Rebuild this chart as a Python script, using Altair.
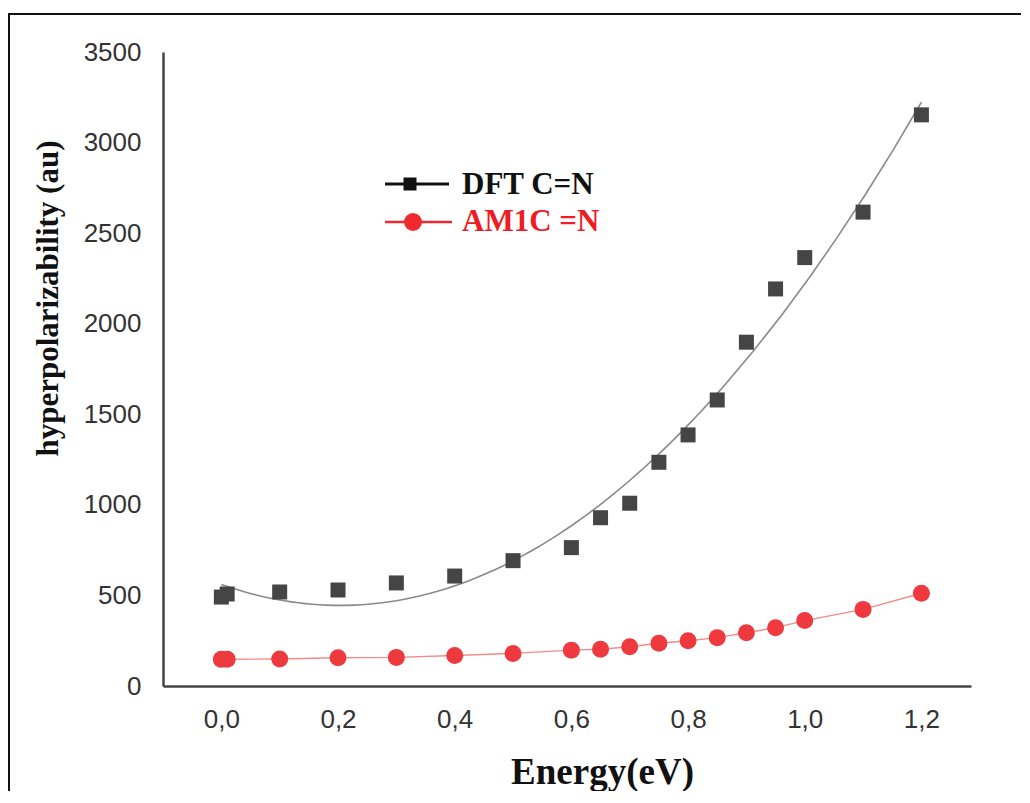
import altair as alt
import pandas as pd

energy = [0.0, 0.01, 0.1, 0.2, 0.3, 0.4, 0.5, 0.6, 0.65, 0.7, 0.75, 0.8, 0.85, 0.9, 0.95, 1.0, 1.1, 1.2]
dft = [491, 508, 519, 530, 569, 607, 692, 764, 929, 1009, 1235, 1386, 1579, 1898, 2192, 2365, 2616, 3153]
am1 = [147, 148, 149, 156, 158, 168, 180, 198, 203, 217, 236, 250, 267, 294, 322, 361, 423, 512]

x_ticks = [0.0, 0.2, 0.4, 0.6, 0.8, 1.0, 1.2]
y_ticks = [0, 500, 1000, 1500, 2000, 2500, 3000, 3500]
series_names = ["DFT C=N", "AM1C =N"]

df = pd.DataFrame({"E": energy, "DFT": dft, "AM1": am1})

x_axis = alt.Axis(
    values=x_ticks,
    labelExpr="replace(format(datum.value, '.1f'), '.', ',')",
    ticks=False, grid=False,
    domainColor="#444444", domainWidth=2.5,
    labelFont="Liberation Sans", labelFontSize=26, labelColor="#333333",
    labelPadding=20,
    title="Energy(eV)", titleFont="Liberation Serif", titleFontSize=37,
    titleFontWeight="bold", titleColor="#111111",
    titleX=439, titleY=97, titleAlign="center", titleBaseline="alphabetic",
)
y_axis = alt.Axis(
    values=y_ticks, format="d",
    ticks=False, grid=False,
    domainColor="#444444", domainWidth=2.5,
    labelFont="Liberation Sans", labelFontSize=26, labelColor="#333333",
    labelPadding=22,
    title="hyperpolarizability (au)", titleFont="Liberation Serif", titleFontSize=31,
    titleFontWeight="bold", titleColor="#111111",
    titleX=-115, titleY=246, titleAngle=-90, titleAlign="center", titleBaseline="middle",
)
x_scale = alt.Scale(domain=[-0.1, 1.285], nice=False, zero=False)
y_scale = alt.Scale(domain=[0, 3500], nice=False)


def xe():
    return alt.X("E:Q", scale=x_scale, axis=x_axis)


def ye(field):
    return alt.Y(f"{field}:Q", scale=y_scale, axis=y_axis)


one = alt.Data(values=[{}])

frame = alt.Chart(one).mark_rect(fillOpacity=0, stroke="#111111", strokeWidth=2).encode(
    x=alt.value(-154), x2=alt.value(900), y=alt.value(-38), y2=alt.value(800)
)

dft_trend = alt.Chart(df).transform_regression(
    "E", "DFT", method="poly", order=2
).mark_line(color="#8a8a8a", strokeWidth=1.6).encode(x=xe(), y=ye("DFT"))

dft_pts = alt.Chart(df).mark_point(
    shape="square", filled=True, color="#454545", size=225, opacity=1
).encode(x=xe(), y=ye("DFT"))

am1_line = alt.Chart(df).mark_line(color="#f58a8a", strokeWidth=1.4).encode(
    x=xe(), y=ye("AM1")
)
am1_pts = alt.Chart(df).mark_circle(color="#ee3a3f", size=289, opacity=1).encode(
    x=xe(), y=ye("AM1")
)

leg_line1 = alt.Chart(one).mark_rule(color="#111111", strokeWidth=3).encode(
    x=alt.value(222), x2=alt.value(286), y=alt.value(132)
)
leg_sym1 = alt.Chart(one).mark_point(
    shape="square", filled=True, color="#111111", size=169, opacity=1
).encode(x=alt.value(247), y=alt.value(132))
leg_txt1 = alt.Chart(one).mark_text(
    text=series_names[0], align="left", baseline="alphabetic",
    font="Liberation Serif", fontWeight="bold", fontSize=31, color="#111111",
).encode(x=alt.value(299), y=alt.value(142))

leg_line2 = alt.Chart(one).mark_rule(color="#ee2a30", strokeWidth=2.5).encode(
    x=alt.value(222), x2=alt.value(289), y=alt.value(170)
)
leg_sym2 = alt.Chart(one).mark_circle(color="#ee2a30", size=324, opacity=1).encode(
    x=alt.value(250), y=alt.value(170)
)
leg_txt2 = alt.Chart(one).mark_text(
    text=series_names[1], align="left", baseline="alphabetic",
    font="Liberation Serif", fontWeight="bold", fontSize=31, color="#ee1c25",
).encode(x=alt.value(299), y=alt.value(179))

chart = alt.layer(
    frame, dft_trend, dft_pts, am1_line, am1_pts,
    leg_line1, leg_sym1, leg_txt1, leg_line2, leg_sym2, leg_txt2,
).properties(
    width=808, height=634,
    autosize=alt.AutoSizeParams(type="none"),
    padding={"left": 155, "top": 44, "right": 50, "bottom": 105},
    background="white",
).configure_view(stroke="transparent")

chart.save("out.html", embed_options={"renderer": "svg", "actions": False})
